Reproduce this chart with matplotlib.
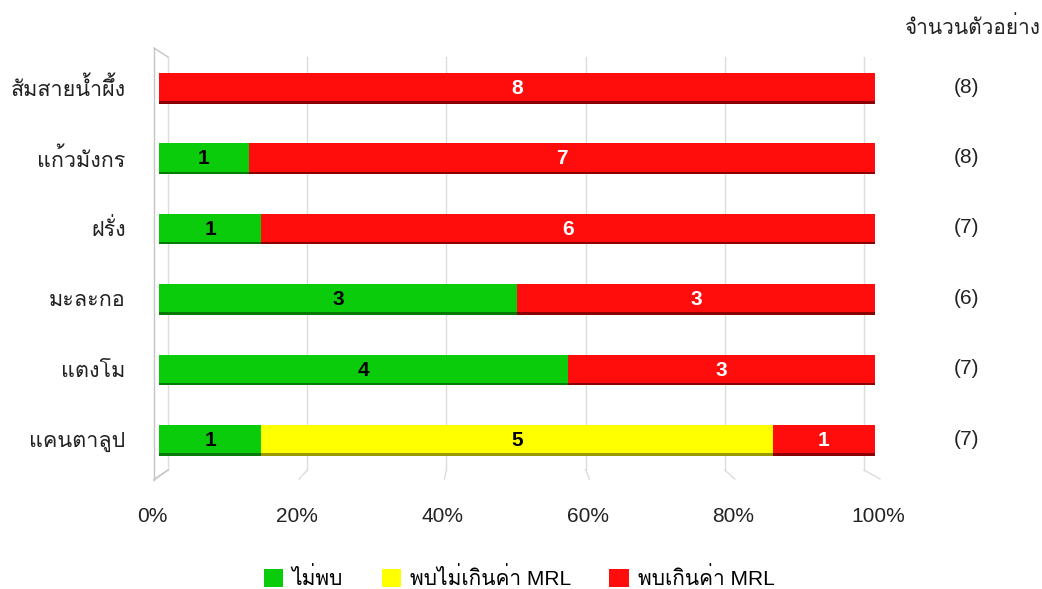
import matplotlib
matplotlib.use('Agg')
import matplotlib.pyplot as plt
import matplotlib.font_manager as fm
from matplotlib.patches import Patch
from matplotlib.transforms import ScaledTranslation
from fontTools.ttLib import TTFont

# data
categories = ['สัมสายน้ำผึ้ง', 'แก้วมังกร', 'ฝรั่ง', 'มะละกอ', 'แตงโม', 'แคนตาลูป']
not_found = [0, 1, 1, 3, 4, 1]
below_mrl = [0, 0, 0, 0, 0, 5]
above_mrl = [8, 7, 6, 3, 3, 1]
series_names = ['ไม่พบ', 'พบไม่เกินค่า MRL', 'พบเกินค่า MRL']
pct_ticks = [0, 0.2, 0.4, 0.6, 0.8, 1.0]
pct_labels = ['0%', '20%', '40%', '60%', '80%', '100%']
header = 'จำนวนตัวอย่าง'


def thai_font():
    """ищем шрифт, в котором есть тайские буквы"""
    for f in fm.fontManager.ttflist:
        try:
            cmap = TTFont(f.fname, fontNumber=0, lazy=True).getBestCmap()
        except Exception:
            continue
        if cmap and 0x0E01 in cmap:
            return f.name
    return None


th = thai_font()
fams = ['Liberation Sans', 'DejaVu Sans']
if th:
    fams = ['Liberation Sans', th, 'DejaVu Sans']
plt.rcParams['font.family'] = fams
plt.rcParams['font.size'] = 15

colors = ['#0ACC0A', '#FFFF00', '#FF0D0D']
shadows = ['#067a06', '#9a9a00', '#8a0000']
text_cols = ['black', 'black', 'white']

totals = [a + b + c for a, b, c in zip(not_found, below_mrl, above_mrl)]
series = [not_found, below_mrl, above_mrl]

fig = plt.figure(figsize=(10.42, 5.89), dpi=100)
ax = fig.add_axes([159 / 1042, 1 - 490 / 589, 716 / 1042, 450 / 589])
ax.set_xlim(0, 1)
ax.set_ylim(5.724, -0.668)

ypos = list(range(len(categories)))

# 3d-ish wall and gridlines
wall = '#c4c4c4'
grid = '#dcdcdc'
ax.plot([-0.007, -0.007], [-0.554, 5.582], color=wall, lw=1, clip_on=False)
ax.plot([-0.007, 0.0126], [-0.554, -0.426], color=wall, lw=1, clip_on=False)
ax.plot([-0.007, 0.0126], [5.582, 5.44], color=wall, lw=1, clip_on=False)
for v in pct_ticks:
    xb = 0.0126 + 0.972 * v
    xf = -0.007 + 1.014 * v
    ax.plot([xb, xb], [-0.426, 5.44], color=grid, lw=1, clip_on=False, zorder=0)
    ax.plot([xb, xf], [5.44, 5.568], color=grid, lw=1, clip_on=False, zorder=0)

left = [0.0] * len(categories)
for s, vals in enumerate(series):
    frac = [v / t for v, t in zip(vals, totals)]
    ax.barh([y + 0.035 for y in ypos], frac, left=left, height=0.4,
            color=shadows[s], zorder=2)
    ax.barh(ypos, frac, left=left, height=0.4, color=colors[s], zorder=3)
    for y, v, f, l in zip(ypos, vals, frac, left):
        if v > 0:
            ax.text(l + f / 2, y + 0.02, str(v), ha='center', va='center',
                    color=text_cols[s], fontsize=15, fontweight='bold', zorder=4)
    left = [l + f for l, f in zip(left, frac)]

# sample counts on the right
for y, t in zip(ypos, totals):
    ax.text(1.128, y, '(%d)' % t, ha='center', va='center', fontsize=15,
            color='#222222', clip_on=False)
fig.text(972 / 1042, 1 - 27 / 589, header, ha='center', va='center',
         fontsize=15, color='#222222')

ax.set_yticks(ypos)
ax.set_yticklabels(categories, fontsize=15.5, color='#222222')
ax.set_xticks(pct_ticks)
ax.set_xticklabels(pct_labels, fontsize=15, color='#222222')
ax.tick_params(axis='y', length=0, pad=24)
ax.tick_params(axis='x', length=0, pad=12)
for lbl, v in zip(ax.get_xticklabels(), pct_ticks):
    lbl.set_transform(lbl.get_transform() +
                      ScaledTranslation((-7 + 10 * v) / 100, 0, fig.dpi_scale_trans))
for sp in ax.spines.values():
    sp.set_visible(False)

handles = [Patch(facecolor=c, edgecolor='none') for c in colors]
fig.legend(handles, series_names, loc='center', bbox_to_anchor=(519 / 1042, 1 - 578 / 589),
           ncol=3, frameon=False, fontsize=15, handlelength=0.95, handleheight=0.95,
           handletextpad=0.4, columnspacing=1.85)

fig.savefig('out.png', dpi=100)
